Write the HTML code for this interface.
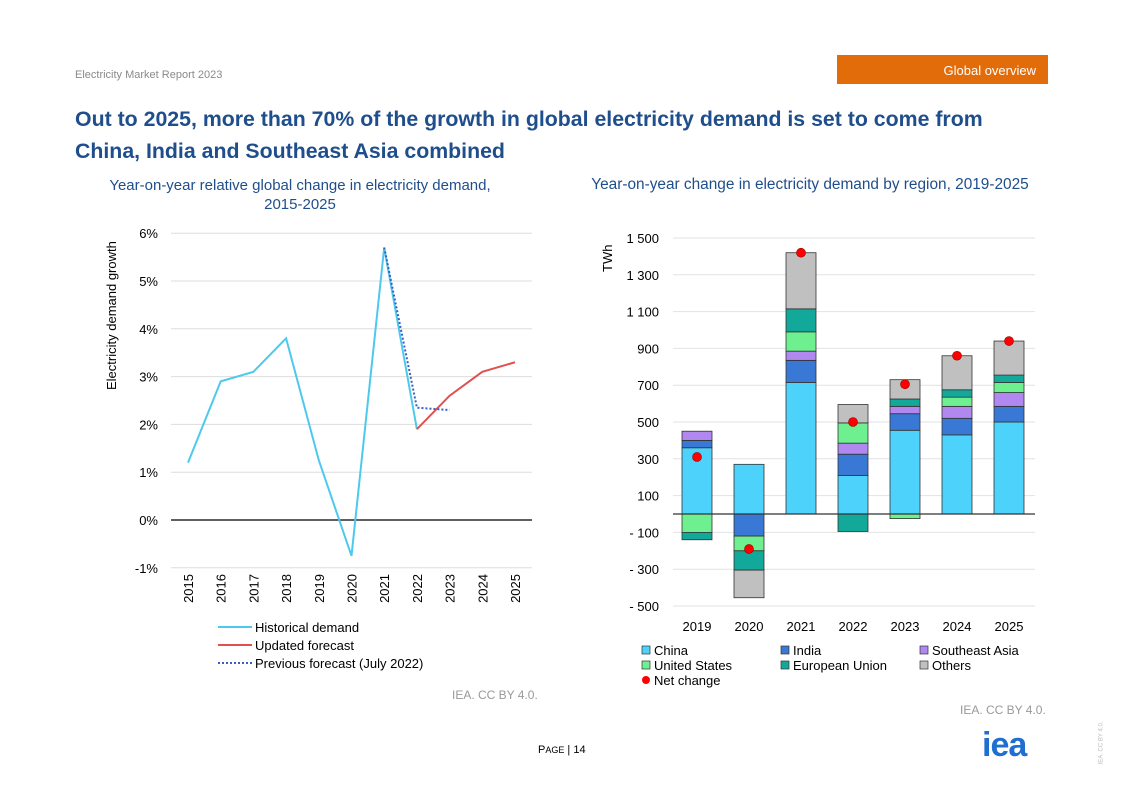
<!DOCTYPE html>
<html><head><meta charset="utf-8"><style>
body{margin:0;width:1122px;height:793px;background:#fff;font-family:"Liberation Sans",sans-serif;position:relative;overflow:hidden}
.a{position:absolute;white-space:nowrap}
</style></head><body>
<div class="a" style="left:75px;top:69px;font-size:11px;color:#8a8a8a">Electricity Market Report 2023</div>
<div class="a" style="left:837px;top:55px;width:211px;height:29px;background:#e36c0a;color:#fff;font-size:13px;line-height:31px;text-align:right;box-sizing:border-box;padding-right:12px">Global overview</div>
<div class="a" style="left:75px;top:103px;font-size:21.3px;font-weight:bold;color:#1f4e8c;line-height:32px">Out to 2025, more than 70% of the growth in global electricity demand is set to come from<br>China, India and Southeast Asia combined</div>
<div class="a" style="left:80px;top:176px;width:440px;text-align:center;font-size:15px;color:#1f4e8c;line-height:19px">Year-on-year relative global change in electricity demand,<br>2015-2025</div>
<div class="a" style="left:575px;top:176px;width:470px;text-align:center;font-size:15.4px;color:#1f4e8c">Year-on-year change in electricity demand by region, 2019-2025</div>
<svg class="a" style="left:0;top:0" width="1122" height="793" id="svg"></svg>
<div class="a" style="left:452px;top:688px;font-size:12px;color:#999">IEA. CC BY 4.0.</div>
<div class="a" style="left:960px;top:703px;font-size:12px;color:#999">IEA. CC BY 4.0.</div>
<div class="a" style="left:538px;top:744px;font-size:11px;color:#000">P<span style="font-size:9px">AGE</span> | 14</div>
<div class="a" style="left:982px;top:726px;font-size:34px;font-weight:bold;color:#1f6fd1;letter-spacing:-1px">iea</div>
<div class="a" style="left:1080px;top:740px;font-size:6px;color:#bbb;transform:rotate(-90deg)">IEA. CC BY 4.0.</div>
<script>
const NS="http://www.w3.org/2000/svg",svg=document.getElementById('svg');
function mk(t,a,p){const e=document.createElementNS(NS,t);for(const k in a)e.setAttribute(k,a[k]);(p||svg).appendChild(e);return e;}
// LEFT CHART DATA
const years=["2015","2016","2017","2018","2019","2020","2021","2022","2023","2024","2025"];
const histVals=[1.2,2.9,3.1,3.8,1.25,-0.75,5.7,1.9];
const updYears=["2022","2023","2024","2025"];
const updVals=[1.9,2.6,3.1,3.3];
const prevYears=["2021","2022","2023"];
const prevVals=[5.7,2.35,2.3];
const leftTicks=[-1,0,1,2,3,4,5,6];
const lx=i=>188+i*32.7, ly=v=>520-v*47.8;
leftTicks.forEach(t=>{const g=mk('line',{x1:171,x2:532,y1:ly(t),y2:ly(t),stroke:t==0?'#000':'#ddd','stroke-width':t==0?1.3:1});

const tx=mk('text',{x:158,y:ly(t)+5,'text-anchor':'end','font-size':13});tx.textContent=t+'%';
});
years.forEach((y,i)=>{const tx=mk('text',{x:0,y:0,'font-size':13,'text-anchor':'end',transform:`translate(${lx(i)+5},574) rotate(-90)`});tx.textContent=y;
});
let yt=mk('text',{transform:'translate(116,390) rotate(-90)','font-size':13,'text-anchor':'start'});yt.textContent='Electricity demand growth';

function line(ys,vals,st,dash,name){const p=mk('polyline',{points:vals.map((v,i)=>lx(years.indexOf(ys[i]))+','+ly(v)).join(' '),fill:'none',stroke:st,'stroke-width':2,'stroke-dasharray':dash||''});
}
line(years.slice(0,histVals.length),histVals,'#4dc9ee','', 'historical-demand-line');
line(updYears,updVals,'#e05050','','updated-forecast-line');
line(prevYears,prevVals,'#3a5fc4','2,2','previous-forecast-line');
[['Historical demand','#4dc9ee',''],['Updated forecast','#e05050',''],['Previous forecast (July 2022)','#3a5fc4','2,2']].forEach((l,i)=>{
const y=627+i*18;const ln=mk('line',{x1:218,x2:252,y1:y,y2:y,stroke:l[1],'stroke-width':2,'stroke-dasharray':l[2]});

const t=mk('text',{x:255,y:y+5,'font-size':13});t.textContent=l[0];});
// RIGHT CHART DATA
const rYears=["2019","2020","2021","2022","2023","2024","2025"];
const china=[360,270,715,210,455,430,500];
const india=[40,-120,120,115,90,90,85];
const sea=[50,0,50,60,40,65,75];
const us=[-100,-80,105,110,-25,50,55];
const eu=[-40,-105,125,-95,40,40,40];
const others=[0,-150,305,100,105,185,185];
const net=[310,-190,1420,500,705,860,940];
const rTicks=[-500,-300,-100,100,300,500,700,900,1100,1300,1500];
const rTickLabels=["- 500","- 300","- 100","100","300","500","700","900","1 100","1 300","1 500"];
const series=[[china,'#4dd2fc','china'],[india,'#3a78d6','india'],[sea,'#b088f0','southeast-asia'],[us,'#6ef090','united-states'],[eu,'#12a89a','european-union'],[others,'#c0c0c0','others']];
const ry=v=>514-v*0.184, rx=i=>697+i*52;
rTicks.forEach((t,i)=>{const g=mk('line',{x1:673,x2:1035,y1:ry(t),y2:ry(t),stroke:'#e2e2e2'});
const tx=mk('text',{x:659,y:ry(t)+5,'text-anchor':'end','font-size':13});tx.textContent=rTickLabels[i];});
rYears.forEach((y,i)=>{let pos=0,neg=0;series.forEach(s=>{const v=s[0][i];if(!v)return;let y0,y1;
if(v>0){y0=pos;y1=pos+v;pos=y1;}else{y0=neg;y1=neg+v;neg=y1;}
const r=mk('rect',{x:rx(i)-15,y:Math.min(ry(y0),ry(y1)),width:30,height:Math.abs(ry(y0)-ry(y1)),fill:s[1],stroke:'#333','stroke-width':0.8});
});
const tx=mk('text',{x:rx(i),y:631,'text-anchor':'middle','font-size':13});tx.textContent=y;});
const zl=mk('line',{x1:673,x2:1035,y1:ry(0),y2:ry(0),stroke:'#333','stroke-width':1.2});
net.forEach((v,i)=>{const c=mk('circle',{cx:rx(i),cy:ry(v),r:4.5,fill:'#f00',stroke:'#900','stroke-width':0.6});});
yt=mk('text',{transform:'translate(612,272) rotate(-90)','font-size':13});yt.textContent='TWh';
const leg=[['China','#4dd2fc',642,654],['India','#3a78d6',781,654],['Southeast Asia','#b088f0',920,654],['United States','#6ef090',642,669],['European Union','#12a89a',781,669],['Others','#c0c0c0',920,669]];
leg.forEach(l=>{const r=mk('rect',{x:l[2],y:l[3]-8,width:8,height:8,fill:l[1],stroke:'#333','stroke-width':0.7});
const t=mk('text',{x:l[2]+12,y:l[3]+1,'font-size':13});t.textContent=l[0];});
const lc=mk('circle',{cx:646,cy:680,r:4,fill:'#f00'});
const lt=mk('text',{x:654,y:685,'font-size':13});lt.textContent='Net change';
</script>
</body></html>
